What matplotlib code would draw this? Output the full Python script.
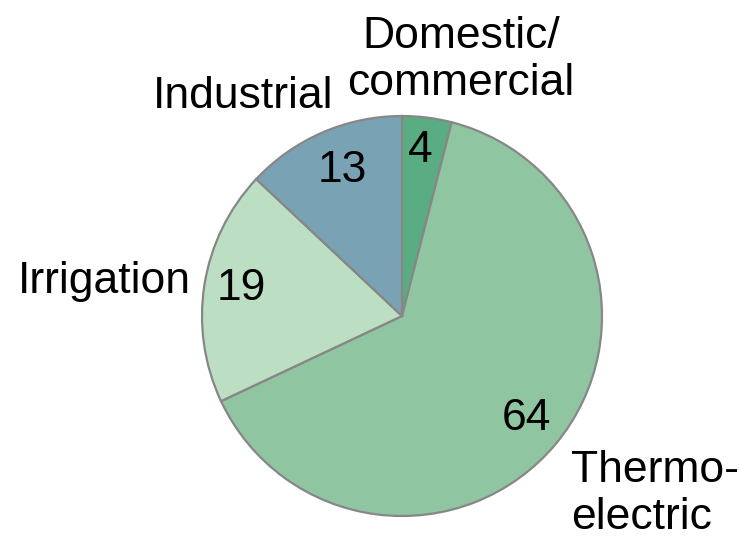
import matplotlib
matplotlib.use("Agg")
import matplotlib.pyplot as plt

labels = ["Domestic/\ncommercial", "Thermo-\nelectric", "Irrigation", "Industrial"]
values = [4, 64, 19, 13]
colors = ["#5aad82", "#8fc5a1", "#bcdfc4", "#79a3b4"]

# text positions in pixel coords (y down)
value_pos = [(420, 150), (526, 418), (241, 289), (342, 171)]
label_pos = [(461, 60, "center"), (571, 494, "left"), (104, 281, "center"), (243, 97, "center")]

plt.rcParams["font.family"] = ["Liberation Sans", "DejaVu Sans"]

W, H = 740, 539
fig = plt.figure(figsize=(7.4, 5.39), dpi=100)
ax = fig.add_axes([0, 0, 1, 1])
ax.set_xlim(0, W)
ax.set_ylim(0, H)
ax.set_aspect("equal")
ax.axis("off")

ax.pie(values, colors=colors, startangle=90, counterclock=False,
       center=(402, H - 316), radius=200, frame=True,
       wedgeprops=dict(edgecolor="#878787", linewidth=1.6))
ax.axis("off")
ax.set_xlim(0, W)
ax.set_ylim(0, H)

for v, (x, y) in zip(values, value_pos):
    ax.text(x, H - y, str(v), fontsize=32, ha="center", va="center")

for lab, (x, y, ha) in zip(labels, label_pos):
    ax.text(x, H - y, lab, fontsize=32, ha=ha, va="center", linespacing=1.2)

fig.savefig("out.png", dpi=100)
